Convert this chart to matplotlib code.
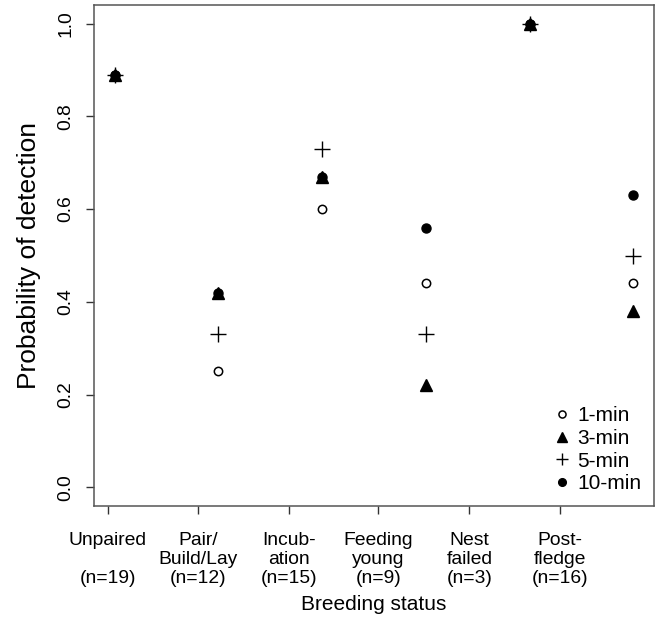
import matplotlib
matplotlib.use("Agg")
import matplotlib.pyplot as plt

plt.rcParams['font.family'] = ['Liberation Sans', 'DejaVu Sans']

# Breeding status categories (x positions 1..6)
status = [1, 2, 3, 4, 5, 6]
status_labels = ["Unpaired\n\n(n=19)", "Pair/\nBuild/Lay\n(n=12)", "Incub-\nation\n(n=15)",
                 "Feeding\nyoung\n(n=9)", "Nest\nfailed\n(n=3)", "Post-\nfledge\n(n=16)"]
# tick positions of the labels (they sit offset from the points in the original)
label_pos = [0.93, 1.80, 2.68, 3.54, 4.42, 5.29]

# Probability of detection per survey duration
p_1min  = [0.89, 0.25, 0.60, 0.44, 1.00, 0.44]
p_3min  = [0.89, 0.42, 0.67, 0.22, 1.00, 0.38]
p_5min  = [0.89, 0.33, 0.73, 0.33, 1.00, 0.50]
p_10min = [0.89, 0.42, 0.67, 0.56, 1.00, 0.63]

fig = plt.figure(figsize=(6.65, 6.27), dpi=100)
ax = fig.add_axes([0.1414, 0.193, 0.842, 0.799])

ax.plot(status, p_1min, "o", ms=6, mfc="white", mec="black", mew=1.1, label="1-min", ls="none")
ax.plot(status, p_3min, "^", ms=8, color="black", label="3-min", ls="none")
ax.plot(status, p_5min, "+", ms=11, color="black", mew=1.0, label="5-min", ls="none")
ax.plot(status, p_10min, "o", ms=6.5, color="black", label="10-min", ls="none")

ax.set_xlim(0.8, 6.2)
ax.set_ylim(-0.04, 1.04)
ax.set_yticks([0.0, 0.2, 0.4, 0.6, 0.8, 1.0])
ax.set_yticklabels(["0.0", "0.2", "0.4", "0.6", "0.8", "1.0"], rotation=90, va="center")
ax.set_xticks(label_pos)
ax.set_xticklabels(status_labels, linespacing=1.17)

ax.tick_params(axis="both", direction="out", length=6, width=1, colors="#333333",
               labelcolor="black", labelsize=13.9)
ax.tick_params(axis="x", pad=12.5)
ax.tick_params(axis="y", pad=8)
for s in ax.spines.values():
    s.set_color("#555555")
    s.set_linewidth(1.1)

ax.set_xlabel("Breeding status", fontsize=15, labelpad=6)
ax.set_ylabel("Probability of detection", fontsize=19, labelpad=12)

ax.legend(loc="lower right", frameon=False, fontsize=15, handletextpad=0.15,
          labelspacing=0.18, borderaxespad=0.3, handlelength=1.2, markerscale=0.85,
          borderpad=0.3)

fig.savefig("out.png", dpi=100)
